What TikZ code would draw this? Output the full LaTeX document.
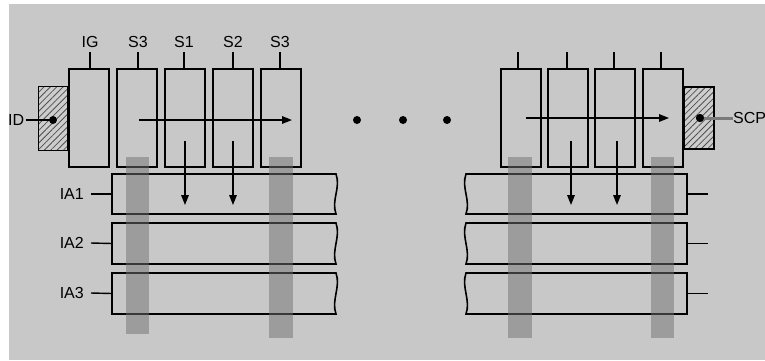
\documentclass[tikz,border=0pt]{standalone}
\usepackage{fontspec}
\setmainfont{Liberation Sans}
\usetikzlibrary{arrows.meta,patterns.meta}

\definecolor{panel}{HTML}{C8C8C8}
\definecolor{hatchbg}{HTML}{CDCDCD}
\definecolor{hatchln}{HTML}{505050}
\definecolor{bandc}{HTML}{727272}
\definecolor{wire}{HTML}{7A7A7A}

\begin{document}
\begin{tikzpicture}[x=1pt,y=-1pt,
  cell/.style={draw, line width=1.6pt, minimum width=40pt, minimum height=98pt,
               inner sep=0pt, anchor=north west},
  hatchbox/.style={draw, line width=1.5pt, inner sep=0pt, anchor=north west,
               preaction={fill=hatchbg},
               pattern={Lines[angle=45,distance=4.5pt,line width=0.8pt]},
               pattern color=hatchln},
  lab/.style={font=\fontsize{16}{18}\selectfont, inner sep=1pt},
  tick/.style={line width=1.4pt},
  flow/.style={line width=1.5pt, -{Triangle[length=10pt,width=7.5pt]}},
  row/.style={line width=1.6pt},
  band/.style={fill=bandc, opacity=0.5},
  dot/.style={circle, fill=black, inner sep=0pt, minimum size=8pt}]

\useasboundingbox (0,0) rectangle (765,360);
\fill[white] (0,0) rectangle (765,360);
\fill[panel] (9,4) rectangle (765,360);

% ---- register cells, left group
\node[cell] (ig)  at (68,68)  {};
\node[cell] (s3a) at (116,68) {};
\node[cell] (s1)  at (164,68) {};
\node[cell] (s2)  at (212,68) {};
\node[cell] (s3b) at (260,68) {};

% ---- register cells, right group
\node[cell] (r1) at (500,68) {};
\node[cell] (r2) at (547,68) {};
\node[cell] (r3) at (594,68) {};
\node[cell] (r4) at (642,68) {};

% ---- column labels and their ticks
\node[lab] (lig)  at (90,42)  {IG};
\node[lab] (ls3a) at (138,42) {S3};
\node[lab] (ls1)  at (184,42) {S1};
\node[lab] (ls2)  at (233,42) {S2};
\node[lab] (ls3b) at (280,42) {S3};
\foreach \l/\c in {lig/ig, ls3a/s3a, ls1/s1, ls2/s2, ls3b/s3b}
  \draw[tick] (\l.south) ++(0,3) -- (\l.south |- \c.north);
\foreach \c/\x in {r1/518, r2/567, r3/614, r4/661}
  \draw[tick] (\x,52) -- (\x,68);

% ---- input and scan ports
\node[hatchbox, minimum width=29pt, minimum height=64pt] (idbox) at (38,86) {};
\node[hatchbox, minimum width=30pt, minimum height=62pt] (scpbox) at (683,86) {};
\node[dot] (iddot)  at (53,120)  {};
\node[dot] (scpdot) at (700,118) {};
\node[lab, anchor=west, inner sep=0pt] (idl)  at (8,120)  {ID};
\node[lab, anchor=west, inner sep=0pt] (scpl) at (733,118) {SCP};
\draw[tick] (idl.east) ++(2,0) -- (iddot.center);
\draw[line width=3pt, wire] (scpdot.center) -- (scpl.west);
\node[dot] at (scpdot) {};

% ---- ellipsis between the groups
\node[dot] (e1) at (357,120) {};
\node[dot] (e2) at (403,120) {};
\node[dot] (e3) at (447,120) {};

% ---- data rows (broken ends drawn wavy)
\foreach \yt/\yb/\n in {174/214/1, 223/264/2, 273/314/3}{
  \draw[row] (336,\yt) -- (112,\yt) -- (112,\yb) -- (336,\yb)
     .. controls (331,\yb-14) and (341,\yt+14) .. cycle;
  \coordinate (la\n) at (112,{(\yt+\yb)/2});
  \draw[row] (466,\yt) -- (687,\yt) -- (687,\yb) -- (466,\yb)
     .. controls (471,\yb-14) and (461,\yt+14) .. cycle;
  \coordinate (ra\n) at (687,{(\yt+\yb)/2});
}
\node[lab, anchor=east] (lia1) at (85,194) {IA1};
\node[lab, anchor=east] (lia2) at (85,243) {IA2};
\node[lab, anchor=east] (lia3) at (85,293) {IA3};
\foreach \n in {1,2,3}{
  \draw[tick] (lia\n.east) ++(6,0) -- (la\n);
  \draw[tick] (ra\n) -- ++(21,0);
}

% ---- shift paths
\coordinate (hl0) at (139,120); \coordinate (hl1) at (292,120);
\coordinate (hr0) at (526,118); \coordinate (hr1) at (669,118);
\draw[flow] (hl0) -- (hl1);
\draw[flow] (hr0) -- (hr1);
\foreach \x in {185,233,571,617}
  \draw[flow] (\x,141) -- (\x,205);

% ---- shaded vertical bands
\fill[band] (126,157) rectangle (149,334);
\fill[band] (269,157) rectangle (293,338);
\fill[band] (508,157) rectangle (532,338);
\fill[band] (651,157) rectangle (674,338);
\end{tikzpicture}
\end{document}
